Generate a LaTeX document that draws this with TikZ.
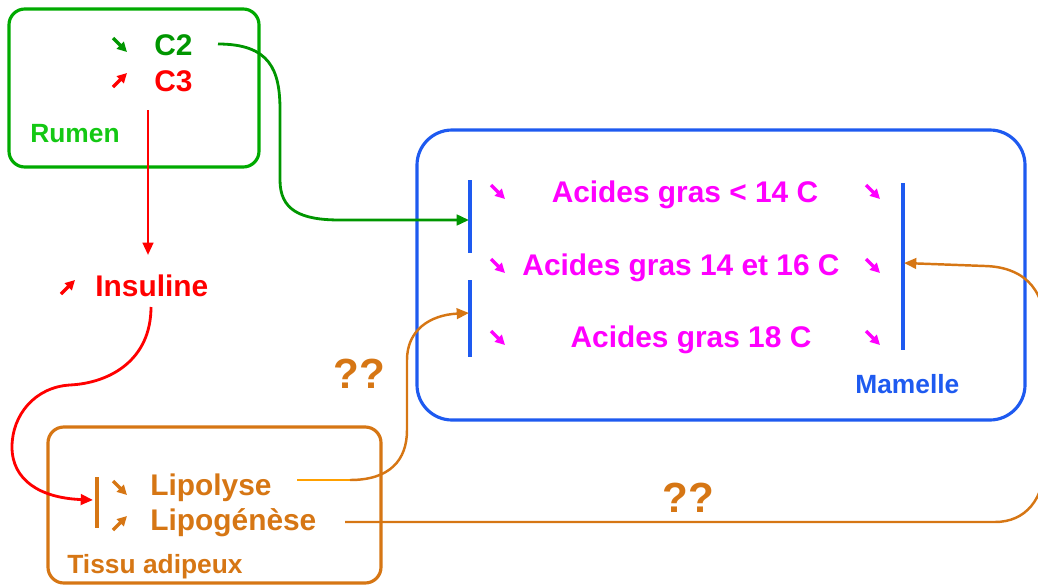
\documentclass[tikz,border=0pt]{standalone}
\usepackage{fontspec}
\setmainfont{Liberation Sans}
\usetikzlibrary{arrows.meta, positioning}

\definecolor{rumgreen}{RGB}{0,170,0}
\definecolor{rumlabel}{RGB}{20,200,20}
\definecolor{ctwogreen}{RGB}{0,150,0}
\definecolor{insred}{RGB}{255,0,0}
\definecolor{fatpink}{RGB}{255,0,255}
\definecolor{mamblue}{RGB}{30,90,240}
\definecolor{tisorange}{RGB}{214,118,20}
\definecolor{lightorange}{RGB}{255,160,0}

\begin{document}
\begin{tikzpicture}[x=0.02cm, y=-0.02cm,
    box/.style={line width=1.8pt, rounded corners=9pt},
    bar/.style={line width=1.8pt},
    link/.style={line width=1.6pt, -{Triangle[length=7pt,width=6pt]}},
    big/.style={font=\bfseries\fontsize{17}{20}\selectfont, anchor=base west, inner sep=0pt},
    small/.style={font=\bfseries\fontsize{15}{18}\selectfont, anchor=base west, inner sep=0pt},
    fat/.style={font=\bfseries\fontsize{17}{20}\selectfont, anchor=base, inner sep=0pt, text=fatpink},
    ask/.style={font=\bfseries\fontsize{24}{28}\selectfont, anchor=base west, inner sep=0pt, text=tisorange},
    trend/.style={line width=2pt, -{Triangle[length=5.5pt,width=5.5pt]}}
]
    \useasboundingbox (0,0) rectangle (1038,585);

    % Rumen
    \draw[box, draw=rumgreen] (9,9) rectangle (259,167);
    \node[big, text=ctwogreen] (c2) at (154,55) {C2};
    \node[big, text=insred] (c3) at (154,91) {C3};
    \node[small, text=rumlabel] (rumen) at (30,142) {Rumen};

    % Insuline
    \node[big, text=insred] (insu) at (95,296) {Insuline};

    % Mamelle
    \draw[box, rounded corners=20pt, draw=mamblue] (417,130) rectangle (1025,420);
    \draw[bar, mamblue] (470,180) -- (470,253);
    \draw[bar, mamblue] (470,280) -- (470,357);
    \draw[bar, mamblue] (903,183) -- (903,350);
    \node[fat] (ag1) at (685,202) {Acides gras < 14 C};
    \node[fat] (ag2) at (681,275) {Acides gras 14 et 16 C};
    \node[fat] (ag3) at (691,347) {Acides gras 18 C};
    \node[small, text=mamblue] (mam) at (855,393) {Mamelle};

    % Tissu adipeux
    \draw[box, draw=tisorange] (48,427) rectangle (381,583);
    \draw[bar, tisorange] (97,477) -- (97,528);
    \node[big, text=tisorange] (lipol) at (150,495) {Lipolyse};
    \node[big, text=tisorange] (lipog) at (150,530) {Lipogénèse};
    \node[small, text=tisorange] (tissu) at (67,573) {Tissu adipeux};

    \node[ask] (ask1) at (333,388) {??};
    \node[ask] (ask2) at (662,512) {??};

    % small trend arrows
    \foreach \x/\y/\c in {120/45/ctwogreen, 498/192/fatpink, 498/266/fatpink, 498/338/fatpink,
        873/192/fatpink, 873/266/fatpink, 873/338/fatpink, 120/488/tisorange}
        \draw[trend, \c] (\x-7,\y-7) -- (\x+7,\y+7);
    \foreach \x/\y/\c in {120/80/insred, 68/287/insred, 120/523/tisorange}
        \draw[trend, \c] (\x-7,\y+7) -- (\x+7,\y-7);

    % connectors
    \coordinate (c2out) at (218,44);
    \coordinate (c3out) at (148,110);
    \coordinate (insuin) at (148,255);
    \coordinate (insuout) at (151,307);
    \coordinate (lipoin) at (93,500);
    \coordinate (mamin1) at (469,220);
    \coordinate (mamin2) at (469,313);
    \coordinate (mamin3) at (904,263);
    \coordinate (lipolout) at (297,480);
    \coordinate (lipogout) at (345,522);

    \draw[link, ctwogreen] (c2out) .. controls (270,44) and (280,70) .. (280,110)
        -- (280,180) .. controls (280,210) and (300,220) .. (340,220) -- (mamin1);
    \draw[link, insred, line width=1.4pt] (c3out) -- (insuin);
    \draw[link, insred] (insuout) .. controls (151,360) and (110,383) .. (70,385)
        .. controls (35,387) and (12,415) .. (12,447)
        .. controls (12,480) and (40,498) .. (lipoin);
    \draw[line width=1.6pt, lightorange] (lipolout) -- (350,480);
    \draw[link, tisorange, line width=1.4pt] (350,480) .. controls (390,480) and (407,460) .. (407,430)
        -- (407,360) .. controls (407,330) and (430,315) .. (mamin2);
    \draw[link, tisorange, line width=1.4pt] (lipogout) -- (995,522)
        .. controls (1025,522) and (1045,500) .. (1045,460) -- (1045,330)
        .. controls (1045,285) and (1020,267) .. (985,266) -- (mamin3);
\end{tikzpicture}
\end{document}
